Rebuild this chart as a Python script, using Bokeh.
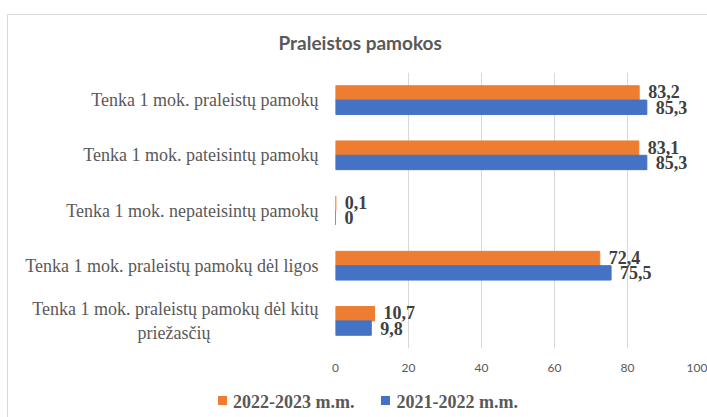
from bokeh.plotting import figure
from bokeh.layouts import column
from bokeh.models import (ColumnDataSource, FactorRange, Range1d, FixedTicker,
                          InlineStyleSheet, Div)
from bokeh.transform import dodge
from bokeh.core.properties import value
from bokeh.embed import file_html
from bokeh.resources import INLINE

NBSP = "\u00a0"
categories = [
    "Tenka 1 mok. praleistų pamokų",
    "Tenka 1 mok. pateisintų pamokų",
    "Tenka 1 mok. nepateisintų pamokų",
    "Tenka 1 mok. praleistų pamokų dėl ligos",
    "Tenka 1 mok. praleistų pamokų dėl kitų\npriežasčių" + NBSP * 24,
]
series_2022_2023 = [83.2, 83.1, 0.1, 72.4, 10.7]
series_2021_2022 = [85.3, 85.3, 0, 75.5, 9.8]
series_names = ["2022-2023 m.m.", "2021-2022 m.m."]
series_colors = ["#ED7D31", "#4472C4"]
x_ticks = [0, 20, 40, 60, 80, 100]

GRAY = "#595959"


def fmt(v):
    return ("%g" % v).replace(".", ",")


src = ColumnDataSource(dict(
    cat=categories,
    a=series_2022_2023,
    b=series_2021_2022,
    la=[fmt(v) for v in series_2022_2023],
    lb=[fmt(v) for v in series_2021_2022],
))

p = figure(
    width=707, height=382,
    y_range=FactorRange(*list(reversed(categories))),
    x_range=Range1d(0, 100),
    output_backend="svg", toolbar_location=None,
    min_border_left=335, min_border_right=7, min_border_top=72, min_border_bottom=34,
    title="Praleistos pamokos",
)
p.outline_line_color = None
p.background_fill_color = "white"
p.border_fill_color = "white"

p.title.text_font = "Lato"
p.title.text_font_size = "19px"
p.title.text_font_style = "bold"
p.title.text_color = GRAY
p.title.align = "left"
p.title.offset = -57
p.title.standoff = 37

bw = 0.26
p.hbar(y=dodge("cat", bw / 2, range=p.y_range), right="a", left=0, height=bw,
       source=src, fill_color=series_colors[0], line_color=series_colors[0])
p.hbar(y=dodge("cat", -bw / 2, range=p.y_range), right="b", left=0, height=bw,
       source=src, fill_color=series_colors[1], line_color=series_colors[1])

for col, lab, off, yo in (("a", "la", bw / 2, -1), ("b", "lb", -bw / 2, 0)):
    p.text(x=col, y=dodge("cat", off, range=p.y_range), text=lab, source=src,
           x_offset=9, y_offset=yo, text_align="left", text_baseline="middle",
           text_font=value("Liberation Serif"), text_font_style="bold",
           text_font_size="18px", text_color="#404040")

# axes
p.xaxis.ticker = FixedTicker(ticks=x_ticks)
p.xaxis.axis_line_color = None
p.xaxis.major_tick_line_color = None
p.xaxis.major_tick_out = 0
p.xaxis.major_tick_in = 0
p.xaxis.minor_tick_line_color = None
p.xaxis.major_label_standoff = 15
p.xaxis.major_label_text_font = "Lato"
p.xaxis.major_label_text_font_size = "12px"
p.xaxis.major_label_text_color = GRAY

p.yaxis.axis_line_color = None
p.yaxis.major_tick_line_color = None
p.yaxis.major_tick_out = 0
p.yaxis.major_tick_in = 0
p.yaxis.minor_tick_line_color = None
p.yaxis.major_label_standoff = 17
p.yaxis.major_label_text_font = "Liberation Serif"
p.yaxis.major_label_text_font_size = "18px"
p.yaxis.major_label_text_color = GRAY

p.ygrid.grid_line_color = None
p.xgrid.grid_line_color = "#D9D9D9"
p.xgrid.grid_line_width = 1

# legend strip below the chart (same series names / colours)
parts = []
for i, (name, c) in enumerate(zip(series_names, series_colors)):
    gap = "margin-left:27px;" if i > 0 else ""
    parts.append(
        f'<span style="display:inline-block;width:9px;height:9px;background:{c};'
        f'margin-right:6px;{gap}vertical-align:middle;position:relative;top:-1px"></span>'
        f'<span style="vertical-align:middle">{name}</span>'
    )
legend_html = (
    '<div style="padding-left:218px;padding-top:8px;white-space:nowrap;'
    "font-family:'Liberation Serif';font-weight:bold;font-size:18px;"
    f'line-height:20px;color:{GRAY}">' + "".join(parts) + "</div>"
)
legend_div = Div(text=legend_html, width=707, height=35, margin=0)

layout = column(p, legend_div, spacing=0)
layout.stylesheets = [InlineStyleSheet(css=(
    ":host { position: relative; }"
    ":host::after { content: ''; position: absolute; left: 7px; top: 14px; "
    "width: 700px; height: 403px; border-top: 1px solid #D9D9D9; "
    "border-left: 1px solid #D9D9D9; box-sizing: border-box; pointer-events: none; }"
))]

open("out.html", "w").write(file_html(layout, INLINE))
